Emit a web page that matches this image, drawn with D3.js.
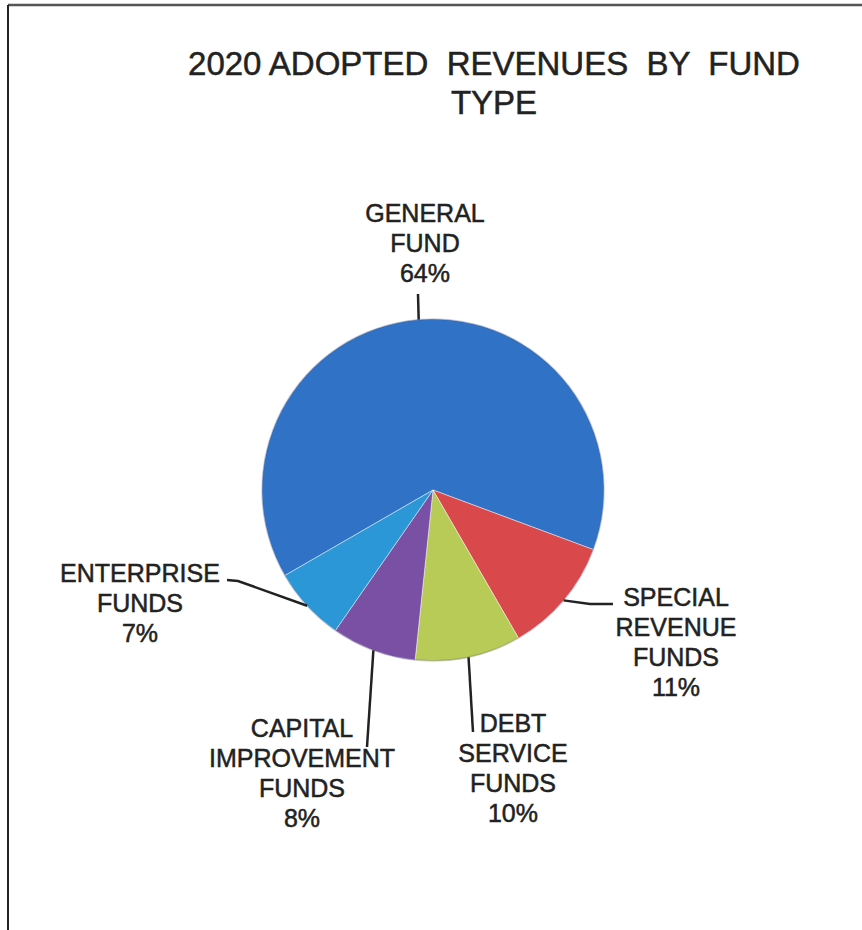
<!DOCTYPE html>
<html>
<head>
<meta charset="utf-8">
<script src="https://cdn.jsdelivr.net/npm/d3@7"></script>
<style>
  body { margin: 0; background: #fff; }
  text { font-family: "Liberation Sans", Arial, sans-serif; fill: #222; stroke: #222; stroke-width: 0.5px; white-space: pre; }
</style>
</head>
<body>
<div id="chart-area"></div>
<script>

// data
var funds = ["GENERAL FUND", "SPECIAL REVENUE FUNDS", "DEBT SERVICE FUNDS", "CAPITAL IMPROVEMENT FUNDS", "ENTERPRISE FUNDS"];
var shares = [64, 11, 10, 8, 7];
var colors = ["#2f72c6", "#d9484a", "#b7cb56", "#7a50a4", "#2b97d6"];
var titleLines = ["2020 ADOPTED  REVENUES  BY  FUND", "TYPE"];

// label text lines and where each label sits
var labelLines = [
    ["GENERAL", "FUND"],
    ["SPECIAL", "REVENUE", "FUNDS"],
    ["DEBT", "SERVICE", "FUNDS"],
    ["CAPITAL", "IMPROVEMENT", "FUNDS"],
    ["ENTERPRISE", "FUNDS"]
];
var labelPos = [
    { x: 425, y: 222, line: [[418, 294]] },
    { x: 676, y: 606, line: [[590, 604], [613, 604]] },
    { x: 513, y: 732, line: [[473, 732]] },
    { x: 302, y: 737, line: [[367, 747]] },
    { x: 140, y: 582, line: [[238, 581], [227, 580]] }
];

var width = 862, height = 930;
var cx = 433, cy = 490, radius = 171;

var svg = d3.select("#chart-area")
    .append("svg")
        .attr("width", width)
        .attr("height", height);

// frame edges
svg.append("line")
    .attr("x1", 8).attr("y1", 5).attr("x2", width).attr("y2", 5)
    .attr("stroke", "#555").attr("stroke-width", 2.5);
svg.append("line")
    .attr("x1", 8).attr("y1", 5).attr("x2", 8).attr("y2", height)
    .attr("stroke", "#222").attr("stroke-width", 2);

// title
svg.append("text")
    .attr("text-anchor", "middle")
    .attr("font-size", 33)
    .selectAll("tspan")
    .data(titleLines)
    .enter()
    .append("tspan")
        .attr("x", 494)
        .attr("y", function(d, i) { return 75 + i * 39; })
        .text(function(d) { return d; });

var pie = d3.pie()
    .sort(null)
    .startAngle(-120 * Math.PI / 180)
    .endAngle(240 * Math.PI / 180);

var arc = d3.arc().innerRadius(0).outerRadius(radius);
var edge = d3.arc().innerRadius(radius).outerRadius(radius);

var arcs = pie(shares);

var g = svg.append("g")
    .attr("transform", "translate(" + cx + "," + cy + ")");

g.selectAll("path")
    .data(arcs)
    .enter()
    .append("path")
        .attr("d", arc)
        .attr("fill", function(d, i) { return colors[i]; })
        .attr("stroke", "rgba(255,255,255,0.45)")
        .attr("stroke-width", 1);

// outer rim, slightly darker
g.append("circle")
    .attr("r", radius)
    .attr("fill", "none")
    .attr("stroke", "rgba(0,0,60,0.18)")
    .attr("stroke-width", 1.5);

// leader lines from slice edge to the label
var line = d3.line();
arcs.forEach(function(d, i) {
    var p = edge.centroid(d);
    var pts = [[p[0] + cx, p[1] + cy]].concat(labelPos[i].line);
    svg.append("path")
        .attr("d", line(pts))
        .attr("fill", "none")
        .attr("stroke", "#222")
        .attr("stroke-width", 2.5);
});

// labels
arcs.forEach(function(d, i) {
    var lines = labelLines[i].concat([d.data + "%"]);
    svg.append("text")
        .attr("text-anchor", "middle")
        .attr("font-size", 25)
        .selectAll("tspan")
        .data(lines)
        .enter()
        .append("tspan")
            .attr("x", labelPos[i].x)
            .attr("y", function(t, j) { return labelPos[i].y + j * 30; })
            .text(function(t) { return t; });
});

</script>
</body>
</html>
